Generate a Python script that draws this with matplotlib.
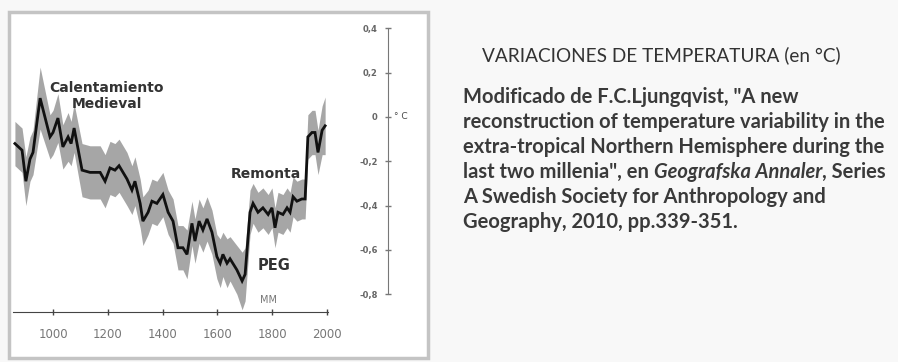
import matplotlib.pyplot as plt
import matplotlib.patches as patches
import numpy as np

# reconstructed NH extra-tropical temperature anomaly
years = [861, 887, 901, 916, 927, 953, 989, 1000, 1018, 1036, 1055, 1066, 1077,
         1106, 1135, 1172, 1190, 1208, 1226, 1241, 1270, 1288, 1299, 1318, 1328,
         1347, 1361, 1379, 1401, 1420, 1438, 1456, 1474, 1489, 1507, 1518, 1533,
         1547, 1562, 1580, 1598, 1610, 1620, 1635, 1646, 1671, 1690, 1701, 1719,
         1730, 1748, 1766, 1785, 1799, 1810, 1821, 1839, 1854, 1865, 1876, 1890,
         1908, 1920, 1930, 1945, 1956, 1967, 1982, 1993]
temp = [-0.12, -0.15, -0.29, -0.19, -0.16, 0.085, -0.09, -0.07, -0.005, -0.135,
        -0.09, -0.12, -0.05, -0.24, -0.25, -0.25, -0.29, -0.23, -0.24, -0.22,
        -0.28, -0.33, -0.29, -0.39, -0.47, -0.43, -0.38, -0.39, -0.35, -0.43,
        -0.47, -0.59, -0.59, -0.62, -0.48, -0.56, -0.47, -0.51, -0.46, -0.52,
        -0.63, -0.66, -0.62, -0.66, -0.64, -0.69, -0.74, -0.71, -0.43, -0.39,
        -0.43, -0.41, -0.44, -0.41, -0.50, -0.43, -0.44, -0.41, -0.43, -0.36,
        -0.38, -0.37, -0.37, -0.09, -0.07, -0.07, -0.16, -0.06, -0.04]
# half width of the grey uncertainty band
spread = [0.10, 0.10, 0.11, 0.10, 0.10, 0.14, 0.10, 0.10, 0.11, 0.10,
          0.11, 0.10, 0.11, 0.12, 0.12, 0.12, 0.12, 0.12, 0.12, 0.12,
          0.12, 0.11, 0.11, 0.11, 0.11, 0.10, 0.10, 0.10, 0.10, 0.10,
          0.10, 0.10, 0.10, 0.11, 0.10, 0.10, 0.10, 0.10, 0.10, 0.10,
          0.10, 0.11, 0.10, 0.11, 0.10, 0.11, 0.13, 0.12, 0.10, 0.09,
          0.09, 0.09, 0.09, 0.09, 0.09, 0.09, 0.09, 0.09, 0.09, 0.09,
          0.09, 0.09, 0.09, 0.10, 0.10, 0.10, 0.10, 0.11, 0.13]

xticks = [1000, 1200, 1400, 1600, 1800, 2000]
yticks = [0.4, 0.2, 0, -0.2, -0.4, -0.6, -0.8]
ytick_labels = ['0,4', '0,2', '0', '-0,2', '-0,4', '-0,6', '-0,8']

title = 'VARIACIONES DE TEMPERATURA (en °C)'
source_lines = [
    'Modificado de F.C.Ljungqvist, "A new',
    'reconstruction of temperature variability in the',
    'extra-tropical Northern Hemisphere during the',
    None,  # line with italic journal name
    'A Swedish Society for Anthropology and',
    'Geography, 2010, pp.339-351.',
]

W, H = 898, 362
fig = plt.figure(figsize=(W / 100, H / 100), dpi=100, facecolor='#f8f8f8')

# panel frame
fig.patches.append(patches.Rectangle((9 / W, 1 - 358 / H), 419 / W, 346 / H,
                                     transform=fig.transFigure, facecolor='white',
                                     edgecolor='#c4c4c4', linewidth=2.5, zorder=-5))

ax = fig.add_axes([13 / W, 1 - 312 / H, (392 - 13) / W, (312 - 25) / H])
ax.set_facecolor('none')
x0, x1 = 854, 2237
ax.set_xlim(x0, x1)
ax.set_ylim(-0.880, 0.415)

t = np.array(temp)
s = np.array(spread)
ax.fill_between(years, t - s, t + s, color='#979797', alpha=0.85, linewidth=0)
ax.plot(years, temp, color='#111111', lw=2.0, solid_joinstyle='miter')

for sp in ['top', 'right']:
    ax.spines[sp].set_visible(False)
ax.spines['bottom'].set_bounds(x0, 2003)
ax.spines['bottom'].set_color('#444444')
ax.spines['left'].set_position(('data', 2223))
ax.spines['left'].set_bounds(-0.8, 0.4)
ax.spines['left'].set_color('#777777')

ax.set_xticks(xticks)
ax.set_xticklabels([str(v) for v in xticks])
ax.tick_params(axis='x', direction='inout', length=5, width=1, color='#444444',
               labelsize=8.5, labelcolor='#777777', pad=9)
ax.set_yticks(yticks)
ax.set_yticklabels(ytick_labels, fontweight='bold')
ax.tick_params(axis='y', direction='inout', length=5, width=1, color='#777777',
               labelsize=6, labelcolor='#666666', pad=5)
ax.text(2245, 0, '° C', fontsize=6.5, color='#444444', va='center', ha='left')

# labels on the curve
ax.text(1197, 0.095, 'Calentamiento\nMedieval', ha='center', va='center',
        fontsize=10, fontweight='bold', color='#333333', linespacing=1.2)
ax.text(1777, -0.257, 'Remonta', ha='center', va='center',
        fontsize=10, fontweight='bold', color='#333333')
ax.text(1806, -0.668, 'PEG', ha='center', va='center',
        fontsize=10.5, fontweight='bold', color='#333333')
ax.text(1785, -0.826, 'MM', ha='center', va='center',
        fontsize=7, color='#777777')

# right hand caption
fam = 'Lato'
fs = 14.5
fig.text(482 / W, 1 - 55 / H, title, fontsize=13.7, family=fam, color='#333333',
         va='center', ha='left')
line_y = [97, 122, 147, 172, 197, 222]
for ly, line in zip(line_y, source_lines):
    if line is not None:
        fig.text(463 / W, 1 - ly / H, line, fontsize=fs, family=fam,
                 fontweight='bold', color='#3a3a3a', va='center', ha='left')
    else:
        a = fig.text(463 / W, 1 - ly / H, 'last two millenia", en ', fontsize=fs,
                     family=fam, fontweight='bold', color='#3a3a3a',
                     va='center', ha='left')
        b = fig.text(0, 0, 'Geografska Annaler', fontsize=fs, family=fam,
                     fontweight='bold', style='italic', color='#3a3a3a')
        fig.canvas.draw()
        r = fig.canvas.get_renderer()
        bb = a.get_window_extent(r)
        b.set_position((bb.x1 / W, 1 - ly / H))
        b.set_va('center')
        fig.canvas.draw()
        bb2 = b.get_window_extent(r)
        fig.text(bb2.x1 / W, 1 - ly / H, ', Series', fontsize=fs, family=fam,
                 fontweight='bold', color='#3a3a3a', va='center', ha='left')

fig.savefig('out.png', dpi=100, facecolor=fig.get_facecolor())
